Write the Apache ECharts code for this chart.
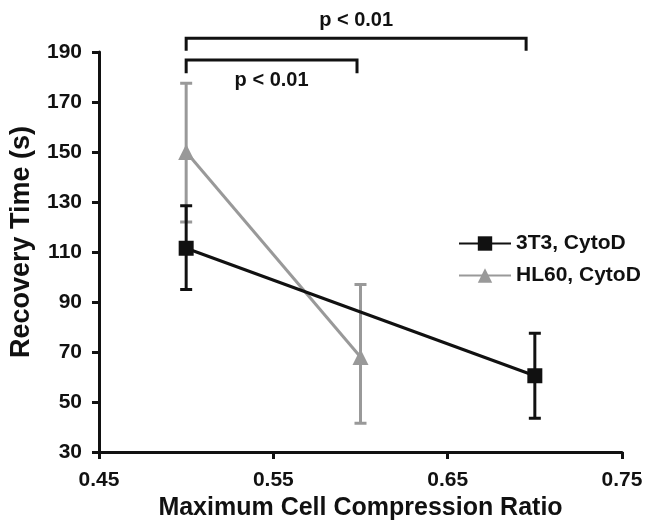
<!DOCTYPE html>
<html>
<head>
<meta charset="utf-8">
<script src="https://cdn.jsdelivr.net/npm/echarts@6/dist/echarts.min.js"></script>
<style>
  html, body { margin: 0; padding: 0; background: #fff; }
  #main { width: 646px; height: 526px; }
</style>
</head>
<body>
<div id="main"></div>
<script>
// data
const ratio3T3 = [0.5, 0.7]
const mean3T3 = [111.5, 60.5]
const low3T3 = [95, 43.5]
const high3T3 = [128.5, 77.5]

const ratioHL60 = [0.5, 0.6]
const meanHL60 = [150, 68]
const lowHL60 = [122, 41.5]
const highHL60 = [177.5, 97]

// significance brackets: from, to, bar height, leg end
const bracketFrom = [0.5, 0.5]
const bracketTo = [0.695, 0.598]
const bracketTop = [195.5, 186.8]
const bracketEnd = [190.5, 181.5]
const bracketText = ['p < 0.01', 'p < 0.01']

const BLACK = '#111'
const GRAY = '#999'
const FONT = '"Liberation Sans", Arial, sans-serif'

const zip = (a, b, c) => a.map((v, i) => c ? [v, b[i], c[i]] : [v, b[i]])

function errorBars(color) {
  return function (params, api) {
    const x = api.value(0)
    const lo = api.coord([x, api.value(1)])
    const hi = api.coord([x, api.value(2)])
    const st = { stroke: color, lineWidth: 3 }
    const w = 6
    return {
      type: 'group',
      children: [
        { type: 'line', shape: { x1: lo[0], y1: lo[1], x2: hi[0], y2: hi[1] }, style: st },
        { type: 'line', shape: { x1: hi[0] - w, y1: hi[1], x2: hi[0] + w, y2: hi[1] }, style: st },
        { type: 'line', shape: { x1: lo[0] - w, y1: lo[1], x2: lo[0] + w, y2: lo[1] }, style: st }
      ]
    }
  }
}

function bracket(params, api) {
  const i = params.dataIndex
  const a = api.coord([api.value(0), api.value(2)])
  const b = api.coord([api.value(1), api.value(2)])
  const aEnd = api.coord([api.value(0), api.value(3)])
  const bEnd = api.coord([api.value(1), api.value(3)])
  const above = i === 0
  return {
    type: 'group',
    children: [
      {
        type: 'polyline',
        shape: { points: [aEnd, a, b, bEnd] },
        style: { stroke: BLACK, lineWidth: 3, fill: null }
      },
      {
        type: 'text',
        x: (a[0] + b[0]) / 2,
        y: above ? a[1] - 8 : a[1] + 10,
        style: {
          text: bracketText[i],
          fill: BLACK,
          font: 'bold 20px ' + FONT,
          align: 'center',
          verticalAlign: above ? 'bottom' : 'top'
        }
      }
    ]
  }
}

const chart = echarts.init(document.getElementById('main'))

const option = {
  backgroundColor: '#fff',
  animation: false,
  grid: { left: 97, right: 24, top: 52, bottom: 74, containLabel: false },
  legend: {
    orient: 'vertical',
    left: 453,
    top: 228,
    itemWidth: 52,
    itemHeight: 18,
    itemGap: 11,
    textStyle: { fontFamily: FONT, fontWeight: 'bold', fontSize: 21, color: BLACK },
    data: ['3T3, CytoD', 'HL60, CytoD']
  },
  xAxis: {
    type: 'value',
    min: 0.45,
    max: 0.75,
    interval: 0.1,
    name: 'Maximum Cell Compression Ratio',
    nameLocation: 'middle',
    nameGap: 43,
    nameTextStyle: { fontFamily: FONT, fontWeight: 'bold', fontSize: 25, color: BLACK },
    axisLine: { lineStyle: { color: BLACK, width: 3 } },
    axisTick: { inside: false, length: 7, lineStyle: { color: BLACK, width: 3 } },
    splitLine: { show: false },
    axisLabel: {
      margin: 18,
      fontFamily: FONT, fontWeight: 'bold', fontSize: 21, color: BLACK,
      formatter: v => v.toFixed(2)
    }
  },
  yAxis: {
    type: 'value',
    min: 30,
    max: 190,
    interval: 20,
    name: 'Recovery Time (s)',
    nameLocation: 'middle',
    nameGap: 64,
    nameTextStyle: {
      fontFamily: FONT, fontWeight: 'bold', fontSize: 27, color: BLACK,
      padding: [0, 0, 0, 20]
    },
    axisLine: { show: true, lineStyle: { color: BLACK, width: 3 } },
    axisTick: { show: true, inside: false, length: 7, lineStyle: { color: BLACK, width: 3 } },
    splitLine: { show: false },
    axisLabel: {
      margin: 17,
      fontFamily: FONT, fontWeight: 'bold', fontSize: 21, color: BLACK
    }
  },
  series: [
    {
      name: '3T3, CytoD',
      type: 'line',
      data: zip(ratio3T3, mean3T3),
      symbol: 'rect',
      symbolSize: 15,
      itemStyle: { color: BLACK },
      lineStyle: { color: BLACK, width: 3 },
      z: 4
    },
    {
      name: 'HL60, CytoD',
      type: 'line',
      data: zip(ratioHL60, meanHL60),
      symbol: 'triangle',
      symbolSize: 16,
      itemStyle: { color: GRAY },
      lineStyle: { color: GRAY, width: 3 },
      z: 3
    },
    {
      type: 'custom',
      renderItem: errorBars(GRAY),
      data: zip(ratioHL60, lowHL60, highHL60),
      encode: { x: 0, y: [1, 2] },
      z: 2
    },
    {
      type: 'custom',
      renderItem: errorBars(BLACK),
      data: zip(ratio3T3, low3T3, high3T3),
      encode: { x: 0, y: [1, 2] },
      z: 3
    },
    {
      type: 'custom',
      renderItem: bracket,
      data: bracketFrom.map((v, i) => [v, bracketTo[i], bracketTop[i], bracketEnd[i]]),
      encode: { x: [0, 1], y: [2, 3] },
      clip: false,
      z: 5
    }
  ]
}

chart.setOption(option)
</script>
</body>
</html>
